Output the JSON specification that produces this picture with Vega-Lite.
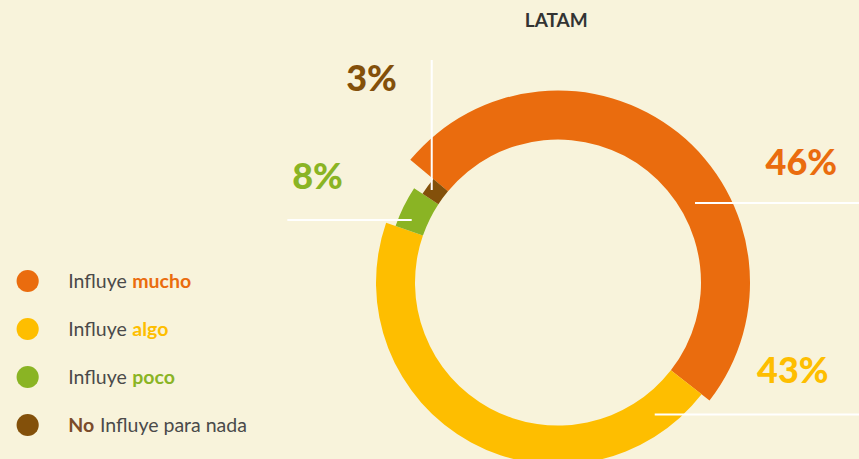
{
  "$schema": "https://vega.github.io/schema/vega-lite/v6.json",
  "width": 859,
  "height": 459,
  "padding": 0,
  "autosize": "none",
  "background": "#F8F3DB",
  "config": {"view": {"stroke": null}},
  "data": {
    "values": [
      {"categoria": "Influye mucho", "clave": "mucho", "pct": 0.46, "arco": 0.495},
      {"categoria": "Influye algo", "clave": "algo", "pct": 0.43, "arco": 0.448},
      {"categoria": "Influye poco", "clave": "poco", "pct": 0.08, "arco": 0.039},
      {"categoria": "No Influye para nada", "clave": "No", "pct": 0.03, "arco": 0.018}
    ]
  },
  "layer": [
    {
      "layer": [
        {
          "transform": [
            {"stack": "arco", "groupby": [], "sort": [{"field": "pct", "order": "descending"}], "as": ["t0", "t1"]}
          ],
          "mark": {"type": "arc", "stroke": null},
          "encoding": {
            "x": {"datum": 64.96, "type": "quantitative", "scale": {"domain": [0, 100], "nice": false, "zero": false}, "axis": null},
            "y": {"datum": 61.55, "type": "quantitative", "scale": {"domain": [0, 100], "nice": false, "zero": false, "reverse": true}, "axis": null},
            "theta": {"field": "t0", "type": "quantitative", "scale": {"domain": [0, 1], "range": [-0.8779, 5.4053]}},
            "theta2": {"field": "t1"},
            "radius": {"field": "categoria", "type": "nominal", "scale": {"type": "point", "domain": ["Influye mucho", "Influye algo", "Influye poco", "No Influye para nada"], "range": [192, 162], "padding": 0}},
            "radius2": {"value": 143},
            "color": {"field": "categoria", "type": "nominal", "scale": {"domain": ["Influye mucho", "Influye algo", "Influye poco", "No Influye para nada"], "range": ["#EA6C0E", "#FEBE00", "#8AB424", "#83500A"]}, "legend": null}
          }
        },
        {
          "data": {"values": [{"titulo": "LATAM"}]},
          "mark": {"type": "text", "font": "Lato", "fontSize": 19, "fontWeight": "bold", "color": "#333333", "align": "center", "baseline": "alphabetic"},
          "encoding": {
            "x": {"datum": 64.76, "type": "quantitative", "scale": {"domain": [0, 100], "nice": false, "zero": false}, "axis": null},
            "y": {"datum": 5.82, "type": "quantitative", "scale": {"domain": [0, 100], "nice": false, "zero": false, "reverse": true}, "axis": null},
            "text": {"field": "titulo"}
          }
        },
        {
          "transform": [{"filter": {"field": "clave", "equal": "mucho"}}],
          "layer": [
            {
              "mark": {"type": "rule", "color": "#FFFFFF", "strokeWidth": 2},
              "encoding": {
                "x": {"datum": 80.91, "type": "quantitative", "axis": null},
                "x2": {"datum": 100},
                "y": {"datum": 44.23, "type": "quantitative", "axis": null}
              }
            },
            {
              "mark": {"type": "text", "font": "Lato", "fontSize": 36, "fontWeight": 900, "align": "center", "baseline": "alphabetic"},
              "encoding": {
                "x": {"datum": 93.28, "type": "quantitative", "axis": null},
                "y": {"datum": 38.13, "type": "quantitative", "axis": null},
                "text": {"field": "pct", "type": "quantitative", "format": ".0%"},
                "color": {"field": "categoria", "type": "nominal", "legend": null}
              }
            }
          ]
        },
        {
          "transform": [{"filter": {"field": "clave", "equal": "algo"}}],
          "layer": [
            {
              "mark": {"type": "rule", "color": "#FFFFFF", "strokeWidth": 2},
              "encoding": {
                "x": {"datum": 76.22, "type": "quantitative", "axis": null},
                "x2": {"datum": 100},
                "y": {"datum": 90.31, "type": "quantitative", "axis": null}
              }
            },
            {
              "mark": {"type": "text", "font": "Lato", "fontSize": 36, "fontWeight": 900, "align": "center", "baseline": "alphabetic"},
              "encoding": {
                "x": {"datum": 92.29, "type": "quantitative", "axis": null},
                "y": {"datum": 83.38, "type": "quantitative", "axis": null},
                "text": {"field": "pct", "type": "quantitative", "format": ".0%"},
                "color": {"field": "categoria", "type": "nominal", "legend": null}
              }
            }
          ]
        },
        {
          "transform": [{"filter": {"field": "clave", "equal": "poco"}}],
          "layer": [
            {
              "mark": {"type": "rule", "color": "#FFFFFF", "strokeWidth": 2},
              "encoding": {
                "x": {"datum": 33.45, "type": "quantitative", "axis": null},
                "x2": {"datum": 47.93},
                "y": {"datum": 47.93, "type": "quantitative", "axis": null}
              }
            },
            {
              "mark": {"type": "text", "font": "Lato", "fontSize": 36, "fontWeight": 900, "align": "center", "baseline": "alphabetic"},
              "encoding": {
                "x": {"datum": 36.96, "type": "quantitative", "axis": null},
                "y": {"datum": 41.24, "type": "quantitative", "axis": null},
                "text": {"field": "pct", "type": "quantitative", "format": ".0%"},
                "color": {"field": "categoria", "type": "nominal", "legend": null}
              }
            }
          ]
        },
        {
          "transform": [{"filter": {"field": "clave", "equal": "No"}}],
          "layer": [
            {
              "mark": {"type": "rule", "color": "#FFFFFF", "strokeWidth": 2},
              "encoding": {
                "x": {"datum": 50.26, "type": "quantitative", "axis": null},
                "y": {"datum": 13.07, "type": "quantitative", "axis": null},
                "y2": {"datum": 41.39}
              }
            },
            {
              "mark": {"type": "text", "font": "Lato", "fontSize": 36, "fontWeight": 900, "align": "center", "baseline": "alphabetic"},
              "encoding": {
                "x": {"datum": 43.25, "type": "quantitative", "axis": null},
                "y": {"datum": 19.83, "type": "quantitative", "axis": null},
                "text": {"field": "pct", "type": "quantitative", "format": ".0%"},
                "color": {"field": "categoria", "type": "nominal", "legend": null}
              }
            }
          ]
        }
      ]
    },
    {
      "layer": [
        {
          "mark": {"type": "point", "shape": "circle", "filled": true, "opacity": 1, "size": 491},
          "encoding": {
            "x": {"datum": 3.22, "type": "quantitative", "axis": null},
            "y": {"field": "categoria", "type": "nominal", "scale": {"type": "point", "domain": ["Influye mucho", "Influye algo", "Influye poco", "No Influye para nada"], "range": [281, 425], "padding": 0}, "axis": null},
            "color": {"field": "categoria", "type": "nominal", "legend": null}
          }
        },
        {
          "transform": [{"filter": {"field": "clave", "oneOf": ["mucho", "algo", "poco"]}}],
          "mark": {"type": "text", "text": "Influye", "font": "Lato", "fontSize": 19.5, "color": "#4A4A4A", "align": "left", "baseline": "alphabetic", "dy": 7},
          "encoding": {
            "x": {"datum": 7.95, "type": "quantitative", "axis": null},
            "y": {"field": "categoria", "type": "nominal", "axis": null}
          }
        },
        {
          "transform": [{"filter": {"field": "clave", "oneOf": ["mucho", "algo", "poco"]}}],
          "mark": {"type": "text", "font": "Lato", "fontSize": 19.5, "fontWeight": "bold", "align": "left", "baseline": "alphabetic", "dy": 7},
          "encoding": {
            "x": {"datum": 15.4, "type": "quantitative", "axis": null},
            "y": {"field": "categoria", "type": "nominal", "axis": null},
            "text": {"field": "clave"},
            "color": {"field": "categoria", "type": "nominal", "legend": null}
          }
        },
        {
          "transform": [{"filter": {"field": "clave", "equal": "No"}}],
          "mark": {"type": "text", "font": "Lato", "fontSize": 19.5, "fontWeight": "bold", "color": "#7B4B2A", "align": "left", "baseline": "alphabetic", "dy": 7},
          "encoding": {
            "x": {"datum": 7.95, "type": "quantitative", "axis": null},
            "y": {"field": "categoria", "type": "nominal", "axis": null},
            "text": {"field": "clave"}
          }
        },
        {
          "transform": [{"filter": {"field": "clave", "equal": "No"}}],
          "mark": {"type": "text", "text": "Influye para nada", "font": "Lato", "fontSize": 19.5, "color": "#4A4A4A", "align": "left", "baseline": "alphabetic", "dy": 7},
          "encoding": {
            "x": {"datum": 11.64, "type": "quantitative", "axis": null},
            "y": {"field": "categoria", "type": "nominal", "axis": null}
          }
        }
      ]
    }
  ],
  "resolve": {"scale": {"y": "independent"}}
}
